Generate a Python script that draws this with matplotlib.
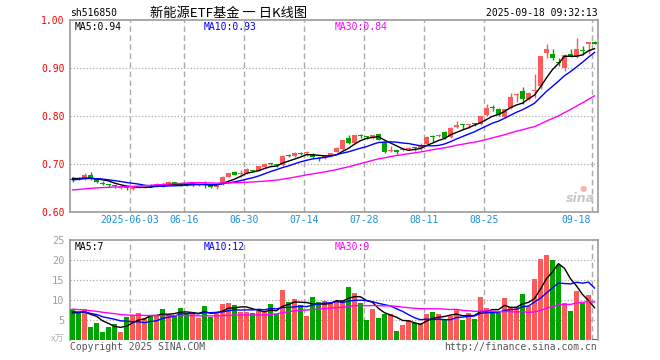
import matplotlib
matplotlib.use("Agg")
import matplotlib.pyplot as plt
import numpy as np

# ---------------- data ----------------
opens = [0.669, 0.670, 0.669, 0.677, 0.668, 0.661, 0.657, 0.655, 0.650, 0.650,
         0.647, 0.650, 0.650, 0.655, 0.654, 0.657, 0.658, 0.662, 0.660, 0.658,
         0.656, 0.656, 0.657, 0.656, 0.652, 0.658, 0.673, 0.684, 0.680, 0.681,
         0.687, 0.686, 0.694, 0.701, 0.698, 0.697, 0.717, 0.716, 0.722, 0.722,
         0.721, 0.712, 0.713, 0.719, 0.725, 0.731, 0.755, 0.743, 0.759, 0.757,
         0.754, 0.762, 0.745, 0.727, 0.727, 0.729, 0.731, 0.735, 0.733, 0.742,
         0.758, 0.758, 0.766, 0.756, 0.778, 0.783, 0.782, 0.784, 0.783, 0.802,
         0.817, 0.815, 0.797, 0.816, 0.843, 0.852, 0.835, 0.852, 0.862, 0.932,
         0.929, 0.911, 0.900, 0.930, 0.924, 0.937, 0.951, 0.954]
closes = [0.667, 0.668, 0.677, 0.670, 0.662, 0.659, 0.656, 0.654, 0.653, 0.649,
          0.650, 0.652, 0.653, 0.654, 0.659, 0.656, 0.663, 0.657, 0.657, 0.657,
          0.658, 0.658, 0.656, 0.652, 0.658, 0.673, 0.681, 0.678, 0.681, 0.690,
          0.686, 0.695, 0.701, 0.700, 0.697, 0.716, 0.716, 0.722, 0.721, 0.723,
          0.714, 0.711, 0.716, 0.722, 0.733, 0.749, 0.743, 0.760, 0.758, 0.756,
          0.760, 0.751, 0.724, 0.728, 0.726, 0.731, 0.733, 0.734, 0.737, 0.757,
          0.757, 0.760, 0.754, 0.776, 0.782, 0.782, 0.783, 0.783, 0.799, 0.816,
          0.816, 0.802, 0.814, 0.839, 0.844, 0.835, 0.847, 0.853, 0.924, 0.939,
          0.921, 0.910, 0.928, 0.924, 0.939, 0.936, 0.952, 0.951]
highs = [0.672, 0.672, 0.682, 0.684, 0.670, 0.664, 0.659, 0.657, 0.654, 0.652,
         0.651, 0.653, 0.654, 0.658, 0.660, 0.660, 0.665, 0.663, 0.661, 0.659,
         0.659, 0.659, 0.664, 0.657, 0.659, 0.675, 0.682, 0.686, 0.687, 0.691,
         0.688, 0.696, 0.703, 0.703, 0.699, 0.718, 0.720, 0.724, 0.725, 0.727,
         0.722, 0.714, 0.717, 0.723, 0.735, 0.751, 0.760, 0.761, 0.763, 0.758,
         0.761, 0.763, 0.746, 0.737, 0.728, 0.732, 0.735, 0.736, 0.743, 0.758,
         0.760, 0.762, 0.768, 0.777, 0.789, 0.784, 0.784, 0.786, 0.800, 0.824,
         0.822, 0.816, 0.815, 0.848, 0.848, 0.861, 0.849, 0.888, 0.925, 0.950,
         0.939, 0.920, 0.929, 0.939, 0.962, 0.946, 0.955, 0.956]
lows = [0.663, 0.666, 0.667, 0.666, 0.660, 0.657, 0.652, 0.650, 0.648, 0.646,
        0.645, 0.649, 0.649, 0.652, 0.652, 0.653, 0.656, 0.656, 0.655, 0.655,
        0.652, 0.655, 0.649, 0.650, 0.648, 0.657, 0.672, 0.677, 0.673, 0.680,
        0.684, 0.685, 0.693, 0.697, 0.694, 0.695, 0.714, 0.714, 0.719, 0.716,
        0.712, 0.707, 0.710, 0.718, 0.724, 0.730, 0.741, 0.742, 0.755, 0.753,
        0.753, 0.749, 0.722, 0.724, 0.720, 0.727, 0.729, 0.728, 0.730, 0.741,
        0.746, 0.757, 0.752, 0.754, 0.776, 0.773, 0.774, 0.780, 0.781, 0.799,
        0.810, 0.800, 0.795, 0.814, 0.830, 0.825, 0.834, 0.837, 0.857, 0.920,
        0.916, 0.904, 0.894, 0.922, 0.921, 0.928, 0.930, 0.949]
volumes = [7.7, 6.7, 7.7, 3.3, 4.3, 2.1, 3.3, 4.0, 2.1, 5.8,
           6.2, 6.8, 5.4, 6.2, 6.2, 7.8, 6.6, 6.2, 8.0, 6.5,
           7.0, 5.6, 8.5, 5.8, 7.1, 9.1, 9.3, 8.75, 7.1, 7.1,
           6.8, 7.25, 7.1, 9.0, 6.4, 12.5, 9.4, 10.25, 8.7, 6.0,
           10.75, 9.6, 9.75, 9.5, 9.6, 10.0, 13.3, 11.8, 9.3, 5.0,
           7.75, 5.6, 6.5, 6.4, 2.25, 3.75, 5.0, 4.2, 4.2, 6.5,
           7.0, 6.5, 5.2, 6.0, 7.7, 5.0, 6.7, 5.25, 10.75, 8.0,
           7.3, 6.7, 10.5, 8.3, 8.2, 11.5, 8.5, 15.25, 20.2, 21.25,
           20.0, 18.75, 9.3, 7.3, 12.25, 9.3, 11.2, 0.25]
# estimated history before the visible window (needed for the moving averages)
prev_closes = [0.642, 0.636, 0.640, 0.634, 0.638, 0.641, 0.637, 0.635, 0.639, 0.638,
               0.632, 0.630, 0.628, 0.633, 0.631, 0.635, 0.634, 0.636, 0.637, 0.634,
               0.658, 0.662, 0.665, 0.667, 0.668, 0.670, 0.672, 0.671, 0.670]
prev_volumes = [9.5, 10.2, 8.8, 9.6, 9.0, 8.4, 9.3, 8.7, 9.1, 7.9,
                6.8, 7.4, 6.5, 7.2, 6.9, 7.3, 6.6, 7.0, 6.8, 6.95,
                7.8, 7.0, 7.5, 6.9, 7.8, 6.4, 7.1, 6.0, 6.8]

date_labels = ["2025-06-03", "06-16", "06-30", "07-14", "07-28", "08-11", "08-25", "09-18"]
date_index = [10, 19, 29, 39, 49, 59, 69, 87]
price_ticks = [0.60, 0.70, 0.80, 0.90, 1.00]
vol_ticks = [5, 10, 15, 20, 25]
price_ma_labels = ["MA5:0.94", "MA10:0.93", "MA30:0.84"]
vol_ma_labels = ["MA5:7", "MA10:12", "MA30:9"]
ma_periods = [5, 10, 30]
header_code = "sh516850"
header_title = "新能源ETF基金 一 日K线图"
header_time = "2025-09-18 09:32:13"

# ---------------- style ----------------
RED = "#ff5a5a"
GREEN = "#00a400"
MA_COLORS = ["#000000", "#0000ff", "#ff00ff"]
GRID = "#aaaaaa"
SPINE = "#9a9a9a"
MONO = "DejaVu Sans Mono"
CJK = ["Noto Sans CJK SC", "DejaVu Sans"]

W, H = 660, 360
fig = plt.figure(figsize=(W / 100, H / 100), dpi=100)
fig.patch.set_facecolor("white")


def fx(x):
    return x / W


def fy(y):
    return 1 - y / H


ax1 = fig.add_axes([fx(70), fy(212), 528 / W, 192 / H])
ax2 = fig.add_axes([fx(70), fy(340), 528 / W, 100 / H])

n = len(closes)
idx = np.arange(n)
o = np.array(opens)
c = np.array(closes)
h = np.array(highs)
l = np.array(lows)
v = np.array(volumes)
up = c >= o
colors = np.where(up, RED, GREEN)

xmin, xmax = -2.5 / 6, 525.5 / 6

for ax in (ax1, ax2):
    ax.set_xlim(xmin, xmax)
    for s in ax.spines.values():
        s.set_color(SPINE)
        s.set_linewidth(1.2)
    ax.tick_params(axis="both", length=0)
    ax.set_xticks([])
    for di in date_index:
        ax.axvline(di - 0.42, color=GRID, lw=1.0, ls=(0, (4, 2.5)), zorder=0)

ax2.spines["bottom"].set_visible(False)

# price panel
ax1.set_ylim(0.6, 1.0)
ax1.set_yticks(price_ticks)
ax1.set_yticklabels([f"{t:.2f}" for t in price_ticks], color="#ff0000",
                    fontfamily=MONO, fontsize=7)
ax1.tick_params(axis="y", pad=4)
for t in price_ticks[1:-1]:
    ax1.axhline(t, color=GRID, lw=0.9, ls=(0, (1, 1.6)), zorder=0)

ax1.vlines(idx, l, h, colors=colors, lw=1.0, zorder=3)
body_bottom = np.minimum(o, c)
body_h = np.maximum(np.abs(c - o), 0.0022)
ax1.bar(idx, body_h, bottom=body_bottom, width=5 / 6, color=colors,
        linewidth=0, zorder=4)

full_c = np.array(prev_closes + closes)
for p, col in zip(ma_periods, MA_COLORS):
    ma = np.convolve(full_c, np.ones(p) / p, mode="valid")[-n:]
    ax1.plot(idx, ma, color=col, lw=1.0, zorder=5)

# volume panel
ax2.set_ylim(0, 25)
ax2.set_yticks(vol_ticks)
ax2.set_yticklabels([str(t) for t in vol_ticks], color="#a0a0a0",
                    fontfamily=MONO, fontsize=7.5)
ax2.tick_params(axis="y", pad=4)
for t in vol_ticks[:-1]:
    ax2.axhline(t, color=GRID, lw=0.9, ls=(0, (1, 1.6)), zorder=0)
ax2.bar(idx, v, width=5 / 6, color=colors, linewidth=0, zorder=3)
full_v = np.array(prev_volumes + volumes)
for p, col in zip(ma_periods, MA_COLORS):
    ma = np.convolve(full_v, np.ones(p) / p, mode="valid")[-n:]
    ax2.plot(idx, ma, color=col, lw=1.0, zorder=5)

# date labels between panels
for lab, di in zip(date_labels, date_index):
    xpix = 72.5 + 6 * di - 2.5
    ha = "right" if di == date_index[-1] else "center"
    if ha == "right":
        xpix -= 1
    fig.text(fx(xpix), fy(220), lab, color="#1a8ee0", fontfamily=MONO,
             fontsize=7, ha=ha, va="center")

# MA legends
ma_x = [75, 204, 335]
for lab, x, col in zip(price_ma_labels, ma_x, MA_COLORS):
    fig.text(fx(x), fy(26.5), lab, color=col, fontfamily=MONO, fontsize=7,
             ha="left", va="center")
for lab, x, col in zip(vol_ma_labels, ma_x, MA_COLORS):
    fig.text(fx(x), fy(246.5), lab, color=col, fontfamily=MONO, fontsize=7,
             ha="left", va="center")

# header
fig.text(fx(70), fy(13.5), header_code, color="#000000", fontfamily=MONO,
         fontsize=7, ha="left", va="center")
fig.text(fx(150), fy(13.5), header_title, color="#000000", family=CJK,
         fontsize=9.5, ha="left", va="center")
fig.text(fx(598), fy(13.5), header_time, color="#000000", fontfamily=MONO,
         fontsize=7, ha="right", va="center")

# footer
fig.text(fx(70), fy(346.5), "Copyright 2025 SINA.COM", color="#555555",
         fontfamily=MONO, fontsize=7, ha="left", va="center")
fig.text(fx(597), fy(346.5), "http://finance.sina.com.cn", color="#555555",
         fontfamily=MONO, fontsize=7, ha="right", va="center")
fig.text(fx(64), fy(339), "x万", color="#b0b0b0", family=CJK,
         fontsize=6.5, ha="right", va="center")

# watermark
fig.text(fx(580), fy(199), "sina", color="#c8c8c8", fontfamily="DejaVu Sans",
         fontsize=9, fontweight="bold", style="italic", ha="center", va="center")
fig.text(fx(583), fy(188), "●", color="#f4b4b4", fontfamily="DejaVu Sans",
         fontsize=6, ha="center", va="center")

fig.savefig("out.png", dpi=100)
